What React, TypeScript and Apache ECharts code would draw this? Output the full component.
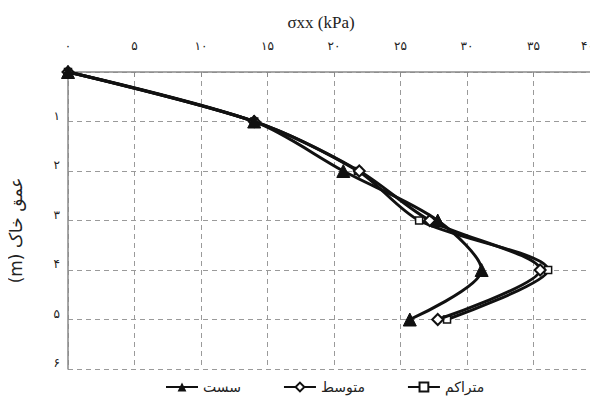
import React, { useEffect, useRef } from "react";
import * as echarts from "echarts";

const depths = [0, 1, 2, 3, 4, 5];
const looseValues = [0, 14.0, 20.7, 27.8, 31.1, 25.7];
const mediumValues = [0, 14.0, 21.9, 27.2, 35.5, 27.8];
const denseValues = [0, 14.0, 21.8, 26.4, 36.1, 28.5];
const seriesNames = ["سست", "متوسط", "متراکم"];
const xTickLabels: Record<number, string> = {
  0: "۰", 5: "۵", 10: "۱۰", 15: "۱۵", 20: "۲۰", 25: "۲۵", 30: "۳۰", 35: "۳۵", 40: "۴۰",
};
const yTickLabels: Record<number, string> = {
  0: "", 1: "۱", 2: "۲", 3: "۳", 4: "۴", 5: "۵", 6: "۶",
};

const persianFont = "DejaVu Sans";

export default function App() {
  const ref = useRef<HTMLDivElement>(null);
  useEffect(() => {
    if (!ref.current) return;
    const chart = echarts.init(ref.current, null, { renderer: "svg" });
    const mk = (vals: number[]) => vals.map((v, i) => [v, depths[i]]);
    chart.setOption({
      animation: false,
      backgroundColor: "#fff",
      title: {
        text: "σxx (kPa)",
        left: 316,
        top: 9,
        textAlign: "center",
        textStyle: { fontFamily: "Liberation Serif", fontSize: 17, fontWeight: "normal", color: "#222" },
      },
      grid: { left: 68, top: 72, right: -2, bottom: 36, containLabel: false, outerBoundsMode: "none" },
      xAxis: {
        type: "value",
        position: "top",
        min: 0,
        max: 40,
        interval: 5,
        axisLine: { show: true, lineStyle: { color: "#8a8a8a", width: 1.5 } },
        axisTick: { show: true, inside: true, length: 5, lineStyle: { color: "#8a8a8a" } },
        axisLabel: {
          margin: 20,
          fontFamily: persianFont,
          fontSize: 12,
          color: "#222",
          alignMaxLabel: "right",
          formatter: (v: number) => (v === 40 ? `{last|${xTickLabels[v]}}` : xTickLabels[v] ?? ""),
          rich: {
            last: { fontFamily: persianFont, fontSize: 12, color: "#222", padding: [0, 6, 0, 0] },
          },
        },
        splitLine: { show: true, lineStyle: { type: [5, 4], color: "#9a9a9a", width: 1 } },
      },
      yAxis: {
        type: "value",
        inverse: true,
        min: 0,
        max: 6,
        interval: 1,
        name: "\u202Bعمق خاک (m)\u202C",
        nameLocation: "middle",
        nameRotate: 90,
        nameGap: 44,
        nameTextStyle: { fontFamily: persianFont, fontSize: 17, color: "#222", padding: [0, 20, 0, 0] },
        axisLine: { show: true, lineStyle: { color: "#8a8a8a", width: 1.5 } },
        axisTick: { show: false },
        axisLabel: {
          margin: 8,
          fontFamily: persianFont,
          fontSize: 12,
          color: "#222",
          verticalAlign: "bottom",
          formatter: (v: number) => yTickLabels[v] ?? "",
        },
        splitLine: { show: true, lineStyle: { type: [5, 4], color: "#9a9a9a", width: 1 } },
      },
      legend: {
        bottom: 6,
        left: 160,
        itemWidth: 32,
        itemHeight: 11,
        itemGap: 42,
        textStyle: { fontFamily: persianFont, fontSize: 14, color: "#222" },
        data: seriesNames,
      },
      series: [
        {
          name: seriesNames[2],
          type: "line",
          smooth: 0.3,
          data: mk(denseValues),
          symbol: "rect",
          symbolSize: 7,
          lineStyle: { color: "#111", width: 3 },
          itemStyle: { color: "#fff", borderColor: "#111", borderWidth: 1.5 },
          z: 2,
        },
        {
          name: seriesNames[1],
          type: "line",
          smooth: 0.3,
          data: mk(mediumValues),
          symbol: "diamond",
          symbolSize: 11,
          lineStyle: { color: "#111", width: 3 },
          itemStyle: { color: "#fff", borderColor: "#111", borderWidth: 2 },
          z: 3,
        },
        {
          name: seriesNames[0],
          type: "line",
          smooth: 0.3,
          data: mk(looseValues),
          symbol: "triangle",
          symbolSize: 13,
          lineStyle: { color: "#111", width: 3 },
          itemStyle: { color: "#111", borderColor: "#111" },
          z: 4,
        },
      ],
    });
    return () => chart.dispose();
  }, []);
  return <div ref={ref} style={{ width: 598, height: 405, margin: -8 }} />;
}
